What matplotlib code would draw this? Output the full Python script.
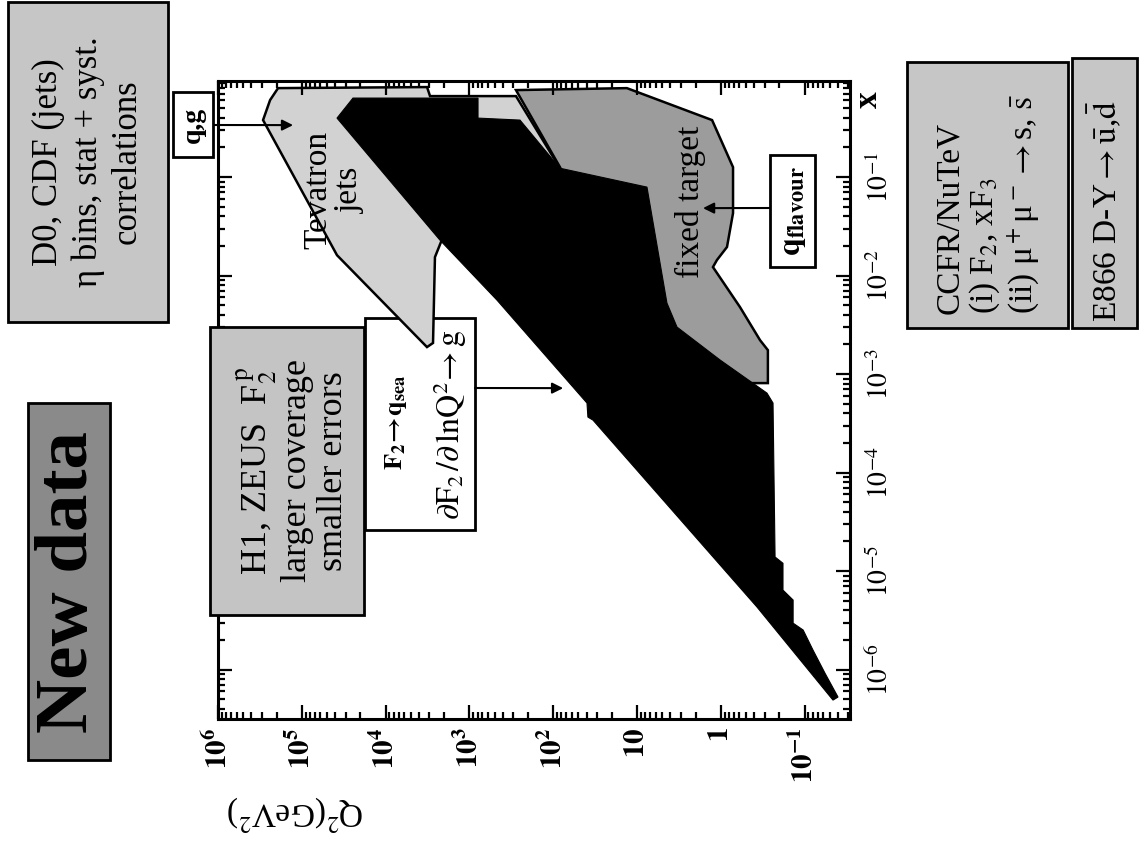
import matplotlib
matplotlib.use("Agg")
import matplotlib.pyplot as plt
import matplotlib.ticker as ticker
from matplotlib.patches import Rectangle

plt.rcParams['font.family'] = ['Liberation Serif', 'DejaVu Serif']
plt.rcParams['mathtext.fontset'] = 'stix'

# Cobertura H1 / ZEUS (Q2 en GeV^2, x de Bjorken)
hera_q2 = [3.8e4, 2.45e4, 789, 789, 249, 83.0, 7.6, 4.39, 3.33, 1.02,
           0.281, 0.238, 0.225, 0.181, 0.181, 0.137, 0.137, 0.104, 0.0794, 0.0571,
           0.0399, 0.0458, 0.370, 33.5, 38.5, 39.5, 469, 2244]
hera_x = [0.397, 0.634, 0.634, 0.397, 0.379, 0.123, 0.0791, 5.26e-3, 3.0e-3, 1.39e-3,
          6.41e-4, 5.08e-4, 1.39e-5, 1.20e-5, 6.41e-6, 5.08e-6, 2.96e-6, 2.52e-6, 1.58e-6, 9.2e-7,
          5.26e-7, 4.9e-7, 4.32e-6, 3.41e-4, 3.66e-4, 5.08e-4, 5.64e-3, 0.0229]

# Jets del Tevatron
tev_q2 = [1.92e5, 3.2e3, 2.95e3, 278, 83, 2183, 2576, 2716, 3206, 3.8e4, 2.9e5, 2.39e5]
tev_x = [0.80, 0.82, 0.664, 0.664, 0.123, 0.0219, 0.0154, 2.07e-3, 1.88e-3, 0.0161, 0.379, 0.605]

# Experiments de blanc fix
fix_q2 = [278, 13.2, 1.27, 0.714, 0.714, 0.843, 1.11, 1.24, 0.590, 0.340,
          0.274, 0.274, 1.77, 27.7, 83]
fix_x = [0.764, 0.80, 0.379, 0.126, 0.0431, 0.0195, 0.0144, 0.0122, 4.79e-3, 2.21e-3,
         1.75e-3, 8.1e-4, 8.1e-4, 0.0182, 0.126]

q2_ticks = [1e6, 1e5, 1e4, 1e3, 1e2, 10, 1, 0.1]
q2_labels = [r'$\mathbf{10^{6}}$', r'$\mathbf{10^{5}}$', r'$\mathbf{10^{4}}$', r'$\mathbf{10^{3}}$',
             r'$\mathbf{10^{2}}$', r'$\mathbf{10}$', r'$\mathbf{1}$', r'$\mathbf{10^{-1}}$']
x_ticks = [1e-6, 1e-5, 1e-4, 1e-3, 1e-2, 1e-1]
x_labels = [r'$10^{-6}$', r'$10^{-5}$', r'$10^{-4}$', r'$10^{-3}$', r'$10^{-2}$', r'$10^{-1}$']

# punts on apunten les fletxes
qg_point = (1.27e5, 0.337)
sea_point = (76, 7.2e-4)
flav_point = (1.63, 0.0484)

W, H = 1139, 841


def fx(X):
    return X / W


def fy(Y):
    return 1 - Y / H


def caixa(X0, Y0, X1, Y1, color, where=None, z=1):
    r = Rectangle((fx(X0), fy(Y1)), (X1 - X0) / W, (Y1 - Y0) / H,
                  transform=fig.transFigure, facecolor=color, edgecolor='black',
                  linewidth=2, zorder=z, clip_on=False)
    if where is None:
        fig.add_artist(r)
    else:
        where.add_patch(r)


fig = plt.figure(figsize=(W / 100, H / 100), dpi=100)
ax = fig.add_axes([fx(218), fy(719), (850 - 218) / W, (719 - 81) / H])

ax.set_xscale('log')
ax.set_yscale('log')
ax.set_xlim(1e6, 0.0287)
ax.set_ylim(3.15e-7, 0.945)

ax.fill(tev_q2, tev_x, facecolor='#d2d2d2', edgecolor='black', linewidth=1.8, zorder=1)
ax.fill(fix_q2, fix_x, facecolor='#9c9c9c', edgecolor='black', linewidth=1.8, zorder=1.5)
ax.fill(hera_q2, hera_x, facecolor='black', edgecolor='black', linewidth=0.8, zorder=2)

ax.xaxis.set_major_locator(ticker.FixedLocator(q2_ticks))
ax.xaxis.set_major_formatter(ticker.FixedFormatter(q2_labels))
ax.yaxis.set_major_locator(ticker.FixedLocator(x_ticks))
ax.yaxis.set_major_formatter(ticker.FixedFormatter(x_labels))
for axis in (ax.xaxis, ax.yaxis):
    axis.set_minor_locator(ticker.LogLocator(base=10, subs=range(2, 10), numticks=30))
    axis.set_minor_formatter(ticker.NullFormatter())

ax.tick_params(which='both', direction='in', top=True, right=True, bottom=True, left=True,
               labelleft=False, labelright=True, width=1.6, color='black')
ax.tick_params(which='major', length=10)
ax.tick_params(which='minor', length=5)
ax.tick_params(axis='x', which='major', pad=6, labelsize=21)
ax.tick_params(axis='y', which='major', pad=12, labelsize=20)
for lab in ax.get_xticklabels():
    lab.set_rotation(90)
for lab in ax.get_yticklabels():
    lab.set_rotation(90)
    lab.set_va('center')
for s in ax.spines.values():
    s.set_linewidth(2.2)

# caixa blanca del F2, per sota de les regions
caixa(365, 318, 475, 530, 'white', where=ax, z=0.5)

arrow = dict(arrowstyle='-|>', color='black', lw=1.5, mutation_scale=16, shrinkA=0, shrinkB=0)
ax.annotate('', xy=qg_point, xycoords='data', xytext=(fx(213), fy(125)),
            textcoords='figure fraction', arrowprops=arrow, annotation_clip=False)
ax.annotate('', xy=sea_point, xycoords='data', xytext=(fx(475), fy(388)),
            textcoords='figure fraction', arrowprops=arrow, annotation_clip=False)
ax.annotate('', xy=flav_point, xycoords='data', xytext=(fx(770), fy(208)),
            textcoords='figure fraction', arrowprops=arrow, annotation_clip=False)

# caixes de text
caixa(8, 2, 168, 322, '#c6c6c6')
caixa(28, 403, 110, 760, '#8a8a8a')
caixa(173, 92, 213, 157, 'white')
caixa(210, 327, 364, 615, '#c4c4c4')
caixa(770, 155, 815, 267, 'white')
caixa(907, 62, 1068, 328, '#c6c6c6')
caixa(1072, 58, 1137, 328, '#c6c6c6')

rot = dict(rotation=90, ha='center', va='center', multialignment='center')
fig.text(fx(88), fy(162), 'D0, CDF (jets)\nη bins, stat + syst.\ncorrelations',
         fontsize=25, linespacing=1.25, **rot)
fig.text(fx(69), fy(582), 'New data', fontsize=54, fontweight='bold', **rot)
fig.text(fx(193), fy(125), 'q,g', fontsize=20, fontweight='bold', **rot)
fig.text(fx(292), fy(471), 'H1, ZEUS  F$_2^{\\,\\mathrm{p}}$\nlarger coverage\nsmaller errors',
         fontsize=26, linespacing=1.1, **rot)
fig.text(fx(396), fy(422), r'$\mathbf{F_2\!\rightarrow\!q_{sea}}$', fontsize=19, **rot)
fig.text(fx(450), fy(425), r'$\partial\mathrm{F}_2\,/\partial\,\mathrm{lnQ}^2\!\rightarrow\mathrm{g}$',
         fontsize=23, **rot)
fig.text(fx(334), fy(190), 'Tevatron\njets', fontsize=24, linespacing=1.05, **rot)
fig.text(fx(690), fy(202), 'fixed target', fontsize=24, **rot)
fig.text(fx(793), fy(211), r'$\mathbf{q}_{\mathbf{flavour}}$', fontsize=23, **rot)
fig.text(fx(868), fy(100), 'x', fontsize=24, fontweight='bold', **rot)

fig.text(fx(988), fy(314),
         'CCFR/NuTeV\n(i) F$_2$, xF$_3$\n(ii) μ$^+$μ$^-$$\\rightarrow$s, $\\bar{\\mathrm{s}}$',
         fontsize=24, rotation=90, ha='center', va='bottom', multialignment='left',
         linespacing=1.1)
fig.text(fx(1105), fy(322), r'E866 D-Y$\rightarrow\bar{\mathrm{u}}$,$\bar{\mathrm{d}}$',
         fontsize=24, rotation=90, ha='center', va='bottom')

fig.text(fx(295), fy(813), r'Q$^2$(GeV$^2$)', fontsize=24, rotation=180, ha='center', va='center')

fig.savefig('out.png', dpi=100)
